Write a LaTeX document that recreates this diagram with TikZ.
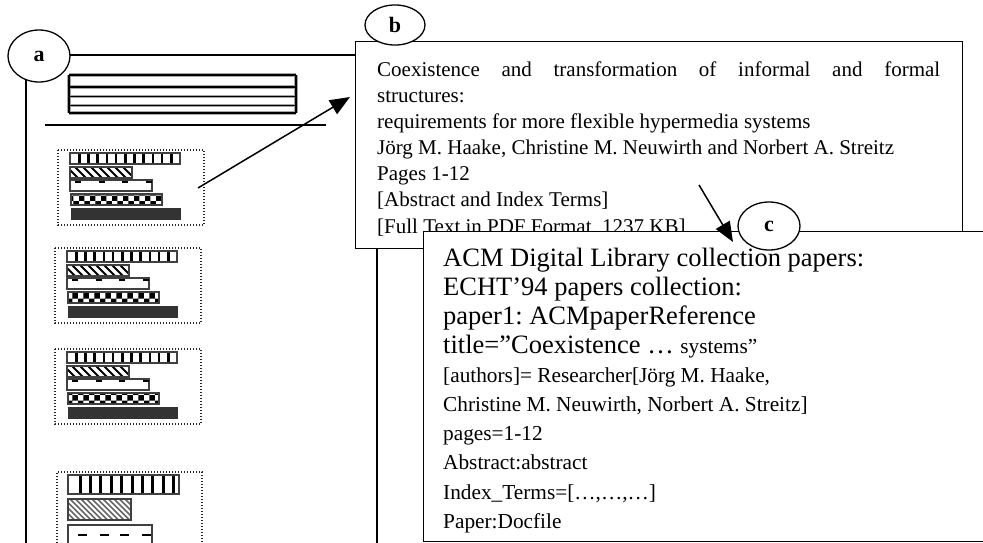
\documentclass[tikz,border=0pt]{standalone}
\usepackage{fontspec}
\setmainfont{Liberation Serif}
\usetikzlibrary{arrows.meta,patterns,shapes.geometric}
\frenchspacing
\newcommand\fsb{\fontsize{21}{25}\selectfont}
\newcommand\fscl{\fontsize{26.5}{30}\selectfont}
\newcommand\fscs{\fontsize{21.3}{25}\selectfont}
\newcommand\fslab{\fontsize{22}{24}\selectfont\bfseries}
\tikzset{
  frameline/.style={line width=1.3pt, draw=black},
  dotbox/.style={line width=1.2pt, draw=black!85, dash pattern=on 1.3pt off 1.7pt},
  barline/.style={line width=1.4pt, draw=black!75},
  bigbar/.style={line width=2pt, draw=black!75},
  headhalo/.style={line width=3.6pt, draw=black!35},
  headline/.style={line width=1.6pt, draw=black},
  arr/.style={line width=1.5pt, -{Triangle[length=20pt,width=16pt]}},
  circ/.style={ellipse, draw, line width=1.3pt, fill=white, inner sep=0pt, font=\fslab},
  panel/.style={rectangle, draw, line width=1.3pt, fill=white, inner sep=0pt, anchor=north west},
  txt/.style={anchor=base west, inner sep=0pt},
}
\newcommand\thumbsmall[2]{%
\begin{scope}[shift={(#1,#2)}]
  \draw[dotbox] (0,0) rectangle (146,75);
  % bar 1: vertical stripes
  \fill[white] (12,3) rectangle (122,14);
  \foreach \k in {1,...,11} \fill[black] (12+9.2*\k-1.3,3) rectangle ++(2.6,11);
  \draw[barline] (12,3) rectangle (122,14);
  % bar 2: diagonal hatch
  \begin{scope}
    \clip (12,17) rectangle (74,28);
    \foreach \k in {0,...,8} \draw[line width=1.8pt] (12+8*\k-3,17) -- ++(11,11);
  \end{scope}
  \draw[barline] (12,17) rectangle (74,28);
  % bar 3: dashes on top
  \draw[barline] (12,30) rectangle (94,41);
  \foreach \k in {0,...,3} \draw[line width=2pt] (17+23.7*\k,32) -- ++(6,0);
  % bar 4: checker
  \draw[barline, pattern=checkerboard] (13,44) rectangle (104,55);
  % bar 5: solid
  \fill[black!80] (13,58) rectangle (123,70);
\end{scope}}
\begin{document}
\begin{tikzpicture}[x=1pt,y=-1pt]
\useasboundingbox (0,0) rectangle (983,542);
\fill[white] (0,0) rectangle (983,542);
% frame a
\draw[frameline] (26,600) -- (26,55) -- (377,55) -- (377,600);
% header block
\foreach \yy in {75,87,96.5,105.5,113} \draw[headhalo] (69,\yy) -- (296,\yy);
\draw[headhalo] (69,75) -- (69,113);
\draw[headhalo] (296,75) -- (296,113);
\foreach \yy in {75,87,96.5,105.5,113} \draw[headline] (69,\yy) -- (296,\yy);
\draw[headline] (69,75) -- (69,113);
\draw[headline] (296,75) -- (296,113);
\draw[line width=1.4pt] (45,125) -- (326,125);
% thumbnails
\thumbsmall{58}{150}
\thumbsmall{55}{248}
\thumbsmall{55}{349}
% thumbnail 4 (larger)
\draw[dotbox] (57,600) -- (57,472) -- (202,472) -- (202,600);
\fill[white] (68,475) rectangle (179,494);
\foreach \k in {0,...,9} \fill[black] (78.5+10.4*\k,475) rectangle ++(3,19);
\draw[bigbar] (68,475) rectangle (179,494);
\begin{scope}
  \clip (68,499) rectangle (131,520);
  \foreach \k in {0,...,16} \draw[line width=1.6pt, black!60] (68+5.5*\k-20,499) -- ++(21,21);
\end{scope}
\draw[bigbar] (68,499) rectangle (131,520);
\draw[bigbar] (68,525) rectangle (152,600);
\foreach \xx in {78,100,120,142} \draw[line width=2.5pt] (\xx,535) -- ++(9,0);
% arrow a -> b
\coordinate (pa1) at (198,188);
\coordinate (pa2) at (350,97);
\draw[arr] (pa1) -- (pa2);
% panel b
\node[panel, minimum width=607pt, minimum height=207pt] (bb) at (355,41) {};
\node[txt, font=\fsb] (b1) at (377,76) {\makebox[563pt][s]{Coexistence and transformation of informal and formal}};
\node[txt, font=\fsb] (b2) at (377,102) {structures:};
\node[txt, font=\fsb] (b3) at (377,128) {requirements for more flexible hypermedia systems};
\node[txt, font=\fsb] (b4) at (377,154) {Jörg M. Haake, Christine M. Neuwirth and Norbert A. Streitz};
\node[txt, font=\fsb] (b5) at (377,180) {Pages 1-12};
\node[txt, font=\fsb] (b6) at (377,206.5) {[Abstract and Index Terms]};
\node[txt, font=\fsb] (b7) at (377,233) {[Full Text in PDF Format, 1237 KB]};
% panel c
\node[panel, minimum width=600pt, minimum height=310pt] (bc) at (423,231) {};
\node[txt, font=\fscl] (c1) at (443,266) {ACM Digital Library collection papers:};
\node[txt, font=\fscl] (c2) at (443,295) {ECHT’94 papers collection:};
\node[txt, font=\fscl] (c3) at (443,324) {paper1: ACMpaperReference};
\node[txt, font=\fscl] (c4) at (443,353.5) {title=”Coexistence … {\fscs systems”}};
\node[txt, font=\fscs] (c5) at (443,382.5) {[authors]= Researcher[Jörg M. Haake,};
\node[txt, font=\fscs] (c6) at (443,411.6) {Christine M. Neuwirth, Norbert A. Streitz]};
\node[txt, font=\fscs] (c7) at (443,440.7) {pages=1-12};
\node[txt, font=\fscs] (c8) at (443,469.8) {Abstract:abstract};
\node[txt, font=\fscs] (c9) at (443,499) {Index\_Terms=[…,…,…]};
\node[txt, font=\fscs] (c10) at (443,528) {Paper:Docfile};
% arrow b -> c
\coordinate (pb1) at (699,185);
\coordinate (pb2) at (733,242);
\draw[arr] (pb1) -- (pb2);
% labels
\node[circ, minimum width=62pt, minimum height=52pt] (la) at (39,56) {a};
\node[circ, minimum width=60pt, minimum height=40pt] (lb) at (395,25) {b};
\node[circ, minimum width=62pt, minimum height=48pt] (lc) at (769,226) {c};
\end{tikzpicture}
\end{document}
